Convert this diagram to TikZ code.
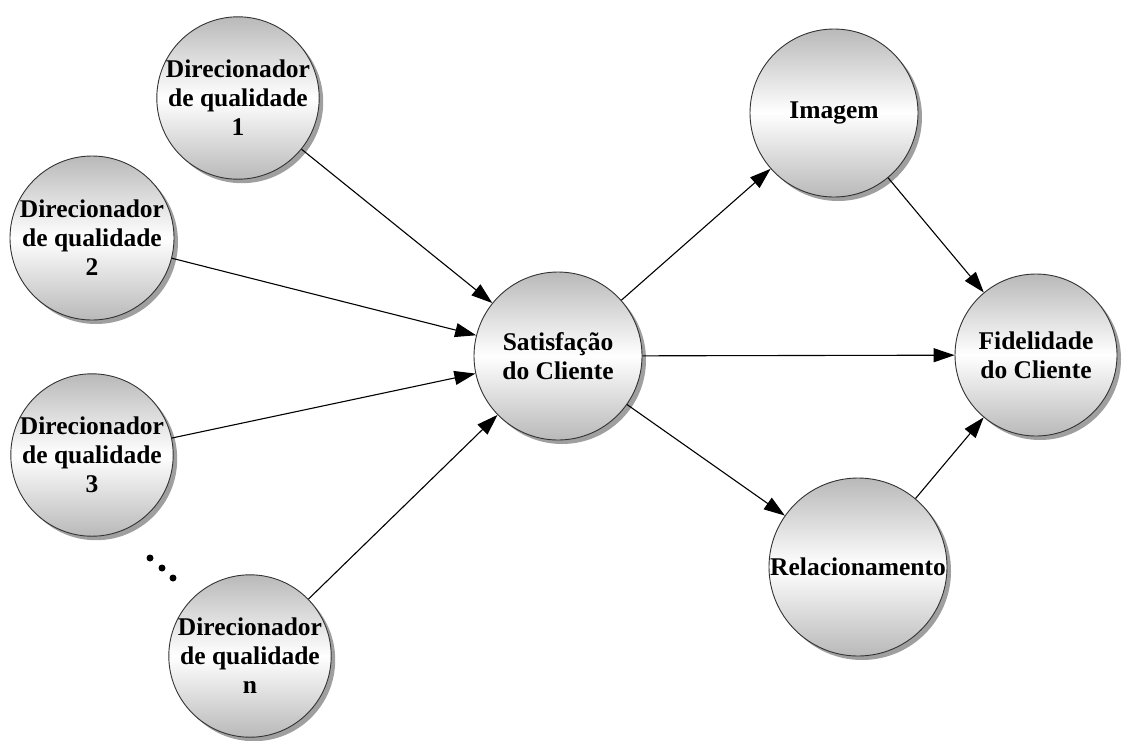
\documentclass[tikz,border=0pt]{standalone}
\usepackage{fontspec}
\setmainfont{Liberation Serif}
\usetikzlibrary{arrows.meta,shadows}
\begin{document}
\begin{tikzpicture}[x=1pt,y=-1pt,
  bub/.style={circle, draw=black!80, line width=0.9pt, inner sep=0pt,
    top color=gray!55, bottom color=gray!55, middle color=white,
    drop shadow={shadow xshift=4pt, shadow yshift=-4pt, fill=gray!75, opacity=1},
    align=center, font=\fontsize{25.5}{29}\selectfont\bfseries},
  conn/.style={line width=1.1pt, -{Triangle[length=21pt,width=14pt]}},
  dot/.style={circle, fill=black, inner sep=0pt, minimum size=7pt}]
\useasboundingbox (0,0) rectangle (1124,740);
\node[bub, minimum size=156pt] (d1) at (238,98) {Direcionador\\de qualidade\\1};
\node[bub, minimum size=164pt] (d2) at (92,238) {Direcionador\\de qualidade\\2};
\node[bub, minimum size=162pt] (d3) at (92,455) {Direcionador\\de qualidade\\3};
\node[bub, minimum size=162pt] (dn) at (250,656) {Direcionador\\de qualidade\\n};
\node[bub, minimum size=168pt] (sat) at (558,356) {Satisfação\\do Cliente};
\node[bub, minimum size=168pt] (img) at (834,113) {Imagem};
\node[bub, minimum size=162pt] (fid) at (1036,355) {Fidelidade\\do Cliente};
\node[bub, minimum size=178pt] (rel) at (858,567) {Relacionamento};
\node[dot] (p1) at (150,558) {};
\node[dot] (p2) at (162,568) {};
\node[dot] (p3) at (173,578) {};
\draw[conn] (d1) -- (sat);
\draw[conn] (d2) -- (sat);
\draw[conn] (d3) -- (sat);
\draw[conn] (dn) -- (sat);
\draw[conn] (sat) -- (img);
\draw[conn] (sat) -- (fid);
\draw[conn] (sat) -- (rel);
\draw[conn] (img) -- (fid);
\draw[conn] (rel) -- (fid);
\end{tikzpicture}
\end{document}
